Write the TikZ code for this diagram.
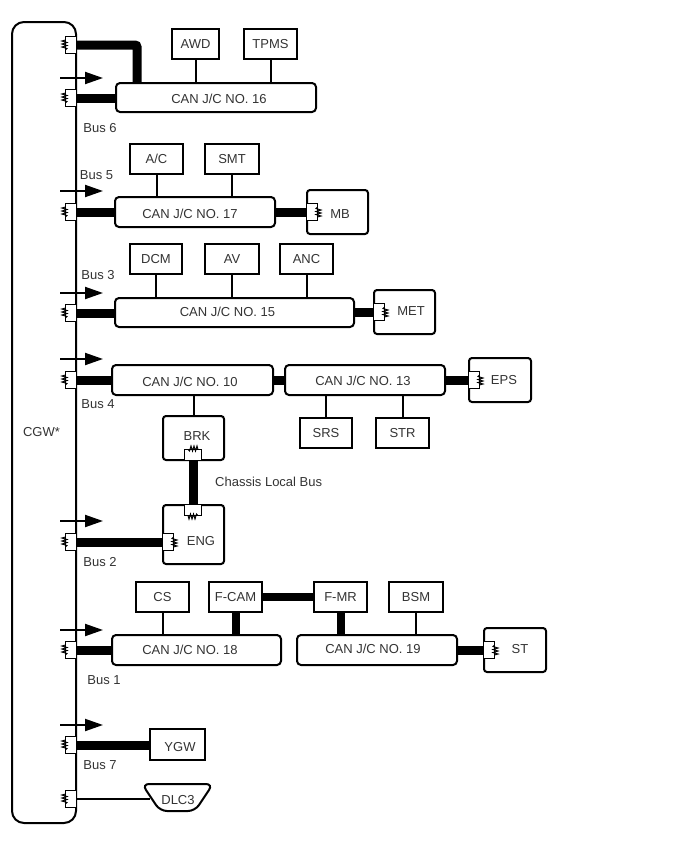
\documentclass[tikz,border=0pt]{standalone}
\usepackage{fontspec}
\setmainfont{Liberation Sans}
\usetikzlibrary{arrows.meta,shapes.geometric}
\tikzset{
  base/.style={draw=black,line width=2pt,inner sep=0pt,outer sep=0pt,fill=white,font=\fontsize{13}{15}\selectfont,text=black!80,text height=9.5pt,text depth=0pt},
  plain/.style={base},
  jc/.style={base,rounded corners=4pt},
  ecu/.style={base,rounded corners=3pt},
  thin wire/.style={line width=2pt},
  bus wire/.style={line width=9pt},
  busarrow/.style={line width=2pt,-{Triangle[length=18pt,width=12pt]}},
  tag/.style={font=\fontsize{13}{15}\selectfont,text=black!80,inner sep=0pt,text height=9.5pt,text depth=0pt},
}
% name, x1, y1, x2, y2, style, text, extra options
\newcommand\bx[8][]{%
  \node[#7,minimum width={(#4-#2)*1pt},minimum height={(#5-#3)*1pt},#1] (#6) at ({(#2+#4)/2},{(#3+#5)/2}) {#8};}
% terminator: name, x, y, rotation
\newcommand\term[4]{%
  \coordinate (#1) at (#2,#3);
  \begin{scope}[shift={(#2,#3)},rotate=#4]
    \draw[line width=1.3pt,fill=white] (0,-8.5) -- (-10.5,-8.5) -- (-10.5,8.5) -- (0,8.5);
    \draw[line width=1pt,black] (-10.5,-5) -- (-14,-4) -- (-9,-2.5) -- (-14,-1) -- (-9,0.5) -- (-14,2) -- (-9,3.5) -- (-10.5,5);
  \end{scope}}
\begin{document}
\begin{tikzpicture}[x=1pt,y=-1pt]
\useasboundingbox (0,0) rectangle (688,852);
% CGW
\node[base,rounded corners=12pt,minimum width=64pt,minimum height=801pt,fill=none] (cgw) at (44,422.5) {};
\node[tag] (cgwt) at (41.5,432) {CGW*};
% boxes
\bx{172}{29}{219}{59}{awd}{plain}{AWD}
\bx{244}{29}{297}{59}{tpms}{plain}{TPMS}
\bx{116}{83}{316}{112}{can16}{jc}{}
\bx{130}{144}{183}{174}{ac}{plain}{A/C}
\bx{205}{144}{259}{174}{smt}{plain}{SMT}
\bx{115}{197}{275}{227}{can17}{jc}{}
\bx{307}{190}{368}{234}{mb}{ecu}{}
\bx{130}{244}{182}{274}{dcm}{plain}{DCM}
\bx{205}{244}{259}{274}{av}{plain}{AV}
\bx{280}{244}{333}{274}{anc}{plain}{ANC}
\bx{115}{298}{354}{327}{can15}{jc}{}
\bx{374}{290}{435}{334}{met}{ecu}{}
\bx{112}{365}{273}{395}{can10}{jc}{}
\bx{285}{365}{445}{395}{can13}{jc}{}
\bx{469}{358}{531}{402}{eps}{ecu}{}
\bx{300}{418}{352}{448}{srs}{plain}{SRS}
\bx{376}{418}{429}{448}{str}{plain}{STR}
\bx{163}{416}{224}{460}{brk}{ecu}{}
\bx{163}{505}{224}{564}{eng}{ecu}{}
\bx{136}{582}{189}{612}{cs}{plain}{CS}
\bx{209}{582}{262}{612}{fcam}{plain}{F-CAM}
\bx{314}{582}{367}{612}{fmr}{plain}{F-MR}
\bx{389}{582}{443}{612}{bsm}{plain}{BSM}
\bx{112}{635}{281}{665}{can18}{jc}{}
\bx{297}{635}{457}{665}{can19}{jc}{}
\bx{484}{628}{546}{672}{st}{ecu}{}
\bx{150}{729}{205}{760}{ygw}{plain}{}
\draw[line width=2pt,rounded corners=7pt,fill=white] (142,784) -- (213,784) -- (195,811) -- (160,811) -- cycle;
\coordinate (dlcw) at (150,799);
\node[tag] (dlc) at (178,800) {DLC3};
% offset texts in the boxes
\node[tag] (can16t) at (219,99) {CAN J/C NO. 16};
\node[tag] (can17t) at (190,214) {CAN J/C NO. 17};
\node[tag] (can15t) at (227.5,312) {CAN J/C NO. 15};
\node[tag] (can10t) at (190,382) {CAN J/C NO. 10};
\node[tag] (can13t) at (363,381) {CAN J/C NO. 13};
\node[tag] (can18t) at (190,650) {CAN J/C NO. 18};
\node[tag] (can19t) at (373,649) {CAN J/C NO. 19};
\node[tag] (mbt) at (340,214) {MB};
\node[tag] (mett) at (411,311) {MET};
\node[tag] (epst) at (504,380) {EPS};
\node[tag] (brkt) at (197,436) {BRK};
\node[tag] (engt) at (201,541) {ENG};
\node[tag] (stt) at (520,649) {ST};
\node[tag] (ygwt) at (180,747) {YGW};
% terminators on the CGW
\term{t1}{76}{45}{0}
\term{t2}{76}{98}{0}
\term{t3}{76}{212}{0}
\term{t4}{76}{313}{0}
\term{t5}{76}{380}{0}
\term{t6}{76}{542}{0}
\term{t7}{76}{650}{0}
\term{t8}{76}{745}{0}
\term{t9}{76}{799}{0}
% terminators inside ECUs
\term{tmb}{307}{212}{180}
\term{tmet}{374}{312}{180}
\term{teps}{469}{380}{180}
\term{tst}{484}{650}{180}
\term{teng}{163}{542}{180}
\term{tbrk}{193}{460}{-90}
\term{tengb}{193}{505}{90}
% thin stubs
\foreach \a/\b in {awd/can16,tpms/can16,ac/can17,smt/can17,dcm/can15,av/can15,anc/can15,cs/can18,bsm/can19}
  \draw[thin wire] (\a.south) -- (\a.south |- \b.north);
\draw[thin wire] (can13.south -| srs) -- (srs.north);
\draw[thin wire] (can13.south -| str) -- (str.north);
\draw[thin wire] (brk.north) -- (brk.north |- can10.south);
\draw[thin wire] (t9) -- (dlcw);
% bus wires
\draw[bus wire,rounded corners=2pt] (t1) -- (137,45) -- (137,83);
\draw[bus wire] (t2) -- (t2 -| can16.west);
\draw[bus wire] (t3) -- (t3 -| can17.west);
\draw[bus wire] (can17.east |- tmb) -- (tmb);
\draw[bus wire] (t4) -- (t4 -| can15.west);
\draw[bus wire] (can15.east |- tmet) -- (tmet);
\draw[bus wire] (t5) -- (can10.west |- t5);
\draw[bus wire] (can10.east |- t5) -- (can13.west |- t5);
\draw[bus wire] (can13.east |- teps) -- (teps);
\draw[bus wire] (tbrk) -- (tengb);
\draw[bus wire] (t6) -- (teng);
\draw[bus wire] (t7) -- (t7 -| can18.west);
\draw[bus wire] (can19.east |- tst) -- (tst);
\draw[bus wire] (t8) -- (t8 -| ygw.west);
\draw[line width=8pt] (fcam.east) -- (fmr.west);
\draw[line width=8pt] (236,612) -- (236,635);
\draw[line width=8pt] (340.5,612) -- (340.5,635);
% bus arrows
\foreach \n/\y in {a/78,b/191,c/293,d/359,e/521,f/630,g/725}{
  \coordinate (\n s) at (60,\y);
  \coordinate (\n e) at (103,\y);
  \draw[busarrow] (\n s) -- (\n e);
}
% labels
\node[tag] (l6) at (100,128) {Bus 6};
\node[tag] (l5) at (96.5,175) {Bus 5};
\node[tag] (l3) at (98,275) {Bus 3};
\node[tag] (l4) at (98,404) {Bus 4};
\node[tag] (l2) at (100,562) {Bus 2};
\node[tag] (l1) at (104,680) {Bus 1};
\node[tag] (l7) at (100,765) {Bus 7};
\node[tag,anchor=west] (lc) at (215,482) {Chassis Local Bus};
\end{tikzpicture}
\end{document}
